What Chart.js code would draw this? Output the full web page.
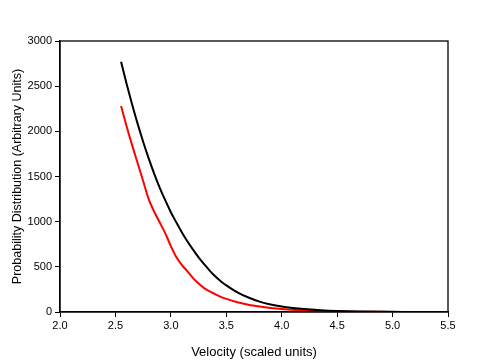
<!DOCTYPE html>
<html>
<head>
<meta charset="utf-8">
<script src="https://cdn.jsdelivr.net/npm/chart.js@4"></script>
<style>
  html, body { margin: 0; padding: 0; background: #fff; }
  #wrap { width: 485px; height: 360px; }
</style>
</head>
<body>
<div id="wrap"><canvas id="chart" width="485" height="360"></canvas></div>
<script>
// velocity values (x) and distributions
const blackVelocity = [2.551, 2.6, 2.65, 2.7, 2.75, 2.8, 2.85, 2.9, 2.95, 3.0, 3.05, 3.1, 3.15, 3.2, 3.25, 3.3, 3.35, 3.4, 3.45, 3.5, 3.6, 3.7, 3.8, 3.9, 4.0, 4.1, 4.2, 4.35, 4.5, 4.7, 5.0, 5.15];
const blackValues   = [2771, 2530, 2300, 2085, 1885, 1700, 1530, 1375, 1235, 1105, 990, 880, 780, 690, 605, 530, 458, 395, 340, 295, 218, 160, 115, 83, 60, 44, 32, 20, 12, 6, 2, 1];

const redVelocity = [2.551, 2.6, 2.65, 2.7, 2.75, 2.8, 2.85, 2.9, 2.95, 3.0, 3.05, 3.1, 3.15, 3.2, 3.25, 3.3, 3.35, 3.4, 3.45, 3.5, 3.6, 3.7, 3.8, 3.9, 4.0, 4.1, 4.2, 4.35, 4.5, 4.7, 5.0, 5.15];
const redValues   = [2281, 2060, 1850, 1650, 1450, 1250, 1110, 990, 870, 730, 605, 520, 450, 375, 315, 265, 228, 198, 168, 145, 108, 80, 60, 44, 32, 24, 17, 11, 6, 3, 1, 0];

const xTicks = [2.0, 2.5, 3.0, 3.5, 4.0, 4.5, 5.0, 5.5];
const yTicks = [0, 500, 1000, 1500, 2000, 2500, 3000];

function toPoints(xs, ys) {
  return xs.map((x, i) => ({ x: x, y: ys[i] }));
}

// draws the frame round the plot area
const frameBox = {
  id: 'frameBox',
  afterDraw(chart) {
    const a = chart.chartArea;
    const ctx = chart.ctx;
    ctx.save();
    ctx.strokeStyle = '#000';
    ctx.lineWidth = 1.3;
    ctx.strokeRect(a.left, a.top, a.right - a.left, a.bottom - a.top);
    ctx.restore();
  }
};

Chart.defaults.font.family = '"Liberation Sans", Arial, sans-serif';
Chart.defaults.color = '#000';

const ctx = document.getElementById('chart').getContext('2d');
new Chart(ctx, {
  type: 'line',
  data: {
    datasets: [
      {
        label: 'Black',
        data: toPoints(blackVelocity, blackValues),
        borderColor: '#000000',
        borderWidth: 2,
        pointRadius: 0,
        cubicInterpolationMode: 'monotone',
        fill: false
      },
      {
        label: 'Red',
        data: toPoints(redVelocity, redValues),
        borderColor: '#ff0000',
        borderWidth: 2,
        pointRadius: 0,
        cubicInterpolationMode: 'monotone',
        fill: false
      }
    ]
  },
  options: {
    responsive: false,
    animation: false,
    events: [],
    layout: { padding: { top: 41, right: 37, left: 0, bottom: 0 } },
    plugins: {
      legend: { display: false },
      tooltip: { enabled: false }
    },
    scales: {
      x: {
        type: 'linear',
        min: 2.0,
        max: 5.5,
        afterBuildTicks(scale) {
          scale.ticks = xTicks.map(v => ({ value: v }));
        },
        afterFit(scale) { scale.height = 48; },
        ticks: {
          font: { size: 11 },
          padding: 2,
          maxRotation: 0,
          callback: v => v.toFixed(1)
        },
        grid: {
          drawOnChartArea: false,
          drawTicks: true,
          tickLength: 5,
          color: '#000'
        },
        border: { display: true, color: '#000', width: 1.3 },
        title: {
          display: true,
          text: 'Velocity (scaled units)',
          font: { size: 13 },
          padding: { top: 8, bottom: 0 }
        }
      },
      y: {
        type: 'linear',
        min: 0,
        max: 3000,
        afterBuildTicks(scale) {
          scale.ticks = yTicks.map(v => ({ value: v }));
        },
        afterFit(scale) { scale.width = 60; },
        ticks: {
          font: { size: 11 },
          padding: 3,
          callback: v => String(v)
        },
        grid: {
          drawOnChartArea: false,
          drawTicks: true,
          tickLength: 5,
          color: '#000'
        },
        border: { display: true, color: '#000', width: 1.3 },
        title: {
          display: true,
          text: 'Probability Distribution (Arbitrary Units)',
          font: { size: 12.5 },
          padding: { top: 10, bottom: 4 }
        }
      }
    }
  },
  plugins: [frameBox]
});
</script>
</body>
</html>
